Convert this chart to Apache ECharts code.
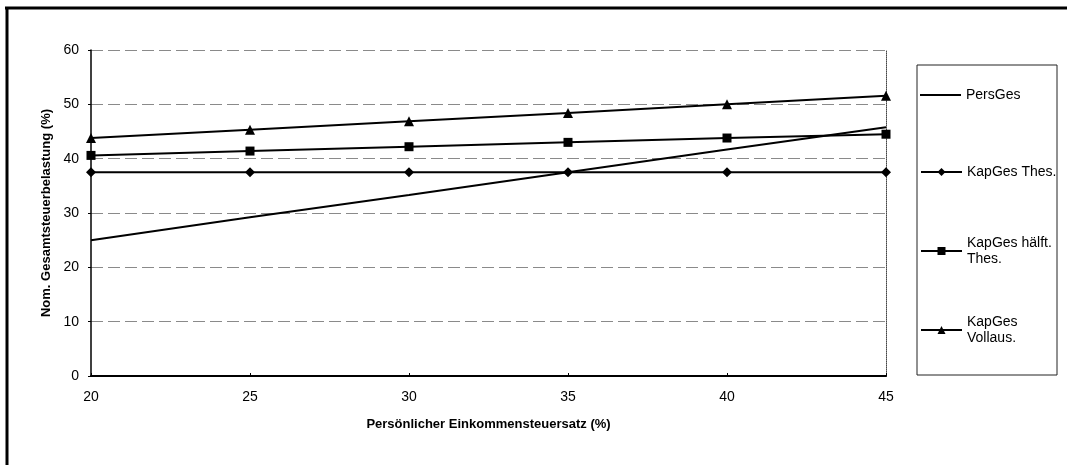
<!DOCTYPE html>
<html>
<head>
<meta charset="utf-8">
<script src="https://cdn.jsdelivr.net/npm/echarts@6/dist/echarts.min.js"></script>
<style>
html,body{margin:0;padding:0;background:#fff;}
#chart{width:1067px;height:465px;}
</style>
</head>
<body>
<div id="chart"></div>
<script>
const xValues = [20, 25, 30, 35, 40, 45];
const persGes = [25.0, 29.2, 33.3, 37.5, 41.7, 45.8];
const kapGesThes = [37.5, 37.5, 37.5, 37.5, 37.5, 37.5];
const kapGesHaelft = [40.6, 41.4, 42.2, 43.0, 43.8, 44.5];
const kapGesVoll = [43.8, 45.3, 46.9, 48.4, 50.0, 51.6];
const seriesNames = ['PersGes', 'KapGes Thes.', 'KapGes hälft. Thes.', 'KapGes Vollaus.'];
const legendLabels = ['PersGes', 'KapGes Thes.', 'KapGes hälft.\nThes.', 'KapGes\nVollaus.'];
const xTitle = 'Persönlicher Einkommensteuersatz (%)';
const yTitle = 'Nom. Gesamtsteuerbelastung (%)';

const FONT = '"Liberation Sans", Arial, Helvetica, sans-serif';
const pairs = arr => xValues.map((x, i) => [x, arr[i]]);

const chart = echarts.init(document.getElementById('chart'), null, {renderer: 'canvas'});

function mkSeries(name, data, symbol, size) {
  return {
    name: name, type: 'line', data: pairs(data),
    symbol: symbol, symbolSize: size, showSymbol: symbol !== 'none',
    lineStyle: {color: '#000', width: 2},
    itemStyle: {color: '#000'},
    emphasis: {disabled: true},
    animation: false
  };
}

const legendTops = [87, 164, 227, 306];
const legends = seriesNames.map((n, i) => {
  const plain = i === 0;
  return {
    data: plain ? [{name: n, icon: 'rect'}] : [n],
    left: 920, top: legendTops[i], orient: 'vertical', padding: 0,
    itemWidth: 41, itemHeight: plain ? 2 : 10, selectedMode: false,
    formatter: () => legendLabels[i],
    textStyle: {
      fontFamily: FONT, fontSize: 14, color: '#000', lineHeight: 16,
      padding: legendLabels[i].indexOf('\n') >= 0 ? [16, 0, 0, 0] : 0
    }
  };
});

chart.setOption({
  animation: false,
  backgroundColor: '#fff',
  grid: {left: 91, right: 181, top: 50, bottom: 89, containLabel: false},
  legend: legends,
  xAxis: {
    type: 'value', min: 20, max: 45, interval: 5,
    name: xTitle, nameLocation: 'middle', nameGap: 42,
    nameTextStyle: {fontFamily: FONT, fontSize: 13, fontWeight: 'bold', color: '#000'},
    axisLine: {show: true, onZero: false, lineStyle: {color: '#000', width: 2}},
    axisTick: {show: true, inside: true, length: 3, lineStyle: {color: '#000'}},
    axisLabel: {fontFamily: FONT, fontSize: 14, color: '#000', margin: 14},
    splitLine: {show: false}
  },
  yAxis: [{
    type: 'value', min: 0, max: 60, interval: 10,
    name: yTitle, nameLocation: 'middle', nameGap: 37, nameRotate: 90,
    nameTextStyle: {fontFamily: FONT, fontSize: 13, fontWeight: 'bold', color: '#000'},
    axisLine: {show: true, lineStyle: {color: '#000', width: 1.5}},
    axisTick: {show: true, length: 3, lineStyle: {color: '#000'}},
    axisLabel: {fontFamily: FONT, fontSize: 14, color: '#000', margin: 12},
    splitLine: {show: true, lineStyle: {color: '#8a8a8a', width: 1, type: [12, 5]}}
  }, {
    type: 'value', min: 0, max: 60, interval: 10, position: 'right',
    axisLine: {show: true, lineStyle: {color: '#444', width: 1, type: 'dotted'}},
    axisTick: {show: false}, axisLabel: {show: false}, splitLine: {show: false}
  }],
  series: [
    mkSeries(seriesNames[0], persGes, 'none', 0),
    mkSeries(seriesNames[1], kapGesThes, 'diamond', 10),
    mkSeries(seriesNames[2], kapGesHaelft, 'rect', 9),
    mkSeries(seriesNames[3], kapGesVoll, 'triangle', 10)
  ],
  graphic: [
    {type: 'line', silent: true, shape: {x1: 5, y1: 8, x2: 1067, y2: 8}, style: {stroke: '#000', lineWidth: 3}},
    {type: 'line', silent: true, shape: {x1: 7, y1: 7, x2: 7, y2: 465}, style: {stroke: '#000', lineWidth: 3}},
    {type: 'rect', silent: true, z: -1, shape: {x: 917, y: 65, width: 140, height: 310}, style: {fill: 'none', stroke: '#222', lineWidth: 1}}
  ]
});
</script>
</body>
</html>
